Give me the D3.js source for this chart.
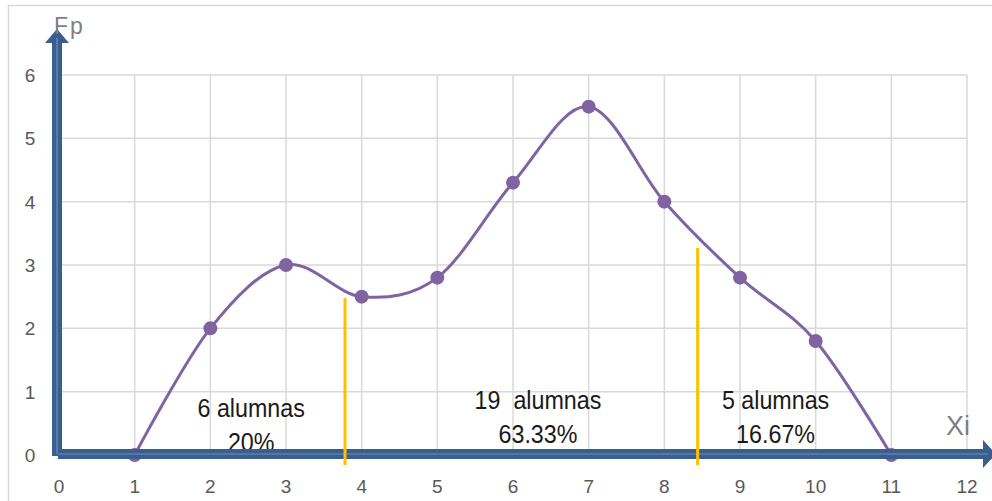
<!DOCTYPE html>
<html>
<head>
<meta charset="utf-8">
<script src="https://cdn.jsdelivr.net/npm/d3@7"></script>
<style>
  html, body { margin: 0; padding: 0; background: #ffffff; }
  svg { display: block; }
</style>
</head>
<body>
<div id="chart"></div>
<script>
// Frequency polygon: Xi values and their Fp
const xValues = [1, 2, 3, 4, 5, 6, 7, 8, 9, 10, 11];
const fpValues = [0, 2, 3, 2.5, 2.8, 4.3, 5.5, 4, 2.8, 1.8, 0];

const xTicks = [0, 1, 2, 3, 4, 5, 6, 7, 8, 9, 10, 11, 12];
const yTicks = [0, 1, 2, 3, 4, 5, 6];

// Divider lines splitting the groups (x position, top value)
const dividerX = [3.78, 8.44];
const dividerTop = [2.48, 3.27];

// Group annotations
const groupX = [2.54, 6.33, 9.47];
const groupY = [0.6, 0.73, 0.73];
const groupLine1 = ["6 alumnas", "19  alumnas", "5 alumnas"];
const groupLine2 = ["20%", "63.33%", "16.67%"];

const W = 992, H = 501;
const svg = d3.select("#chart").append("svg")
  .attr("width", W).attr("height", H);

const x = d3.scaleLinear().domain([0, 12]).range([59, 967]);
const y = d3.scaleLinear().domain([0, 6]).range([455, 75]);

// Outer frame
svg.append("rect")
  .attr("x", 8.5).attr("y", 5.5)
  .attr("width", W + 10).attr("height", H + 10)
  .attr("fill", "none").attr("stroke", "#d9d9d9").attr("stroke-width", 1.5);

// Gridlines
const grid = svg.append("g").attr("stroke", "#d9d9d9").attr("stroke-width", 1.5);
grid.selectAll("line.h").data(yTicks.filter(d => d > 0)).join("line")
  .attr("x1", x(0)).attr("x2", x(12))
  .attr("y1", d => y(d)).attr("y2", d => y(d));
grid.selectAll("line.v").data(xTicks.filter(d => d > 0)).join("line")
  .attr("x1", d => x(d)).attr("x2", d => x(d))
  .attr("y1", y(6)).attr("y2", y(0));

// Tick labels
const tickFont = "'Liberation Sans', Arial, sans-serif";
svg.append("g").selectAll("text").data(yTicks).join("text")
  .attr("x", 30).attr("y", d => y(d) + 7)
  .attr("text-anchor", "middle")
  .attr("font-family", tickFont).attr("font-size", 19)
  .attr("fill", "#595959")
  .text(d => d);
svg.append("g").selectAll("text").data(xTicks).join("text")
  .attr("x", d => x(d)).attr("y", 493)
  .attr("text-anchor", "middle")
  .attr("font-family", tickFont).attr("font-size", 19)
  .attr("fill", "#595959")
  .text(d => d);

// Smoothed frequency curve
const pts = xValues.map((v, i) => [v, fpValues[i]]);
const line = d3.line()
  .x(d => x(d[0])).y(d => y(d[1]))
  .curve(d3.curveCatmullRom.alpha(0));
svg.append("path").datum(pts)
  .attr("d", line)
  .attr("fill", "none").attr("stroke", "#8064a2").attr("stroke-width", 3);
svg.append("g").selectAll("circle").data(pts).join("circle")
  .attr("cx", d => x(d[0])).attr("cy", d => y(d[1]))
  .attr("r", 7).attr("fill", "#8064a2");

// Group annotations (slightly tall lettering)
const notes = svg.append("g")
  .attr("font-family", "'Liberation Sans', Arial, sans-serif")
  .attr("font-size", 24).attr("fill", "#1a1a1a").attr("text-anchor", "middle");
const addNote = (tx, ty, str) => notes.append("text")
  .attr("transform", `translate(${tx},${ty}) scale(0.97,1.08)`)
  .attr("xml:space", "preserve").style("white-space", "pre")
  .text(str);
groupX.forEach((gx, i) => {
  addNote(x(gx), y(groupY[i]), groupLine1[i]);
  addNote(x(gx), y(groupY[i]) + 34, groupLine2[i]);
});

// Axes drawn as thick double-line arrows
const axisDark = "#3a5e8e", axisLight = "#6d8fbf";
const ax0 = x(0) - 2, ay0 = y(0) - 1;
// vertical axis
svg.append("rect").attr("x", ax0 - 5).attr("y", 42).attr("width", 10).attr("height", ay0 - 42 + 2)
  .attr("fill", axisDark);
svg.append("path").attr("d", `M${ax0 - 12},43 L${ax0},29 L${ax0 + 12},43 Z`).attr("fill", axisDark);
svg.append("line").attr("x1", ax0).attr("x2", ax0).attr("y1", 38).attr("y2", ay0)
  .attr("stroke", axisLight).attr("stroke-width", 1.2);
// horizontal axis
svg.append("rect").attr("x", ax0 + 1).attr("y", ay0 - 5).attr("width", 983 - ax0).attr("height", 10)
  .attr("fill", axisDark);
svg.append("path").attr("d", `M983,${ay0 - 14} L996,${ay0} L983,${ay0 + 14} Z`).attr("fill", axisDark);
svg.append("line").attr("x1", ax0 + 1).attr("x2", 988).attr("y1", ay0).attr("y2", ay0)
  .attr("stroke", axisLight).attr("stroke-width", 1.2);

// Axis titles
svg.append("text").attr("x", 54).attr("y", 34)
  .attr("font-family", "'Liberation Sans', Arial, sans-serif").attr("font-size", 23)
  .attr("letter-spacing", 2).attr("fill", "#7f7f7f").text("Fp");
svg.append("text").attr("x", 946).attr("y", 435)
  .attr("font-family", "'Liberation Sans', Arial, sans-serif").attr("font-size", 27)
  .attr("fill", "#7f7f7f").text("Xi");

// Group dividers
svg.append("g").selectAll("line").data(dividerX).join("line")
  .attr("x1", d => x(d)).attr("x2", d => x(d))
  .attr("y1", (d, i) => y(dividerTop[i])).attr("y2", y(-0.16))
  .attr("stroke", "#ffc000").attr("stroke-width", 3);
</script>
</body>
</html>
